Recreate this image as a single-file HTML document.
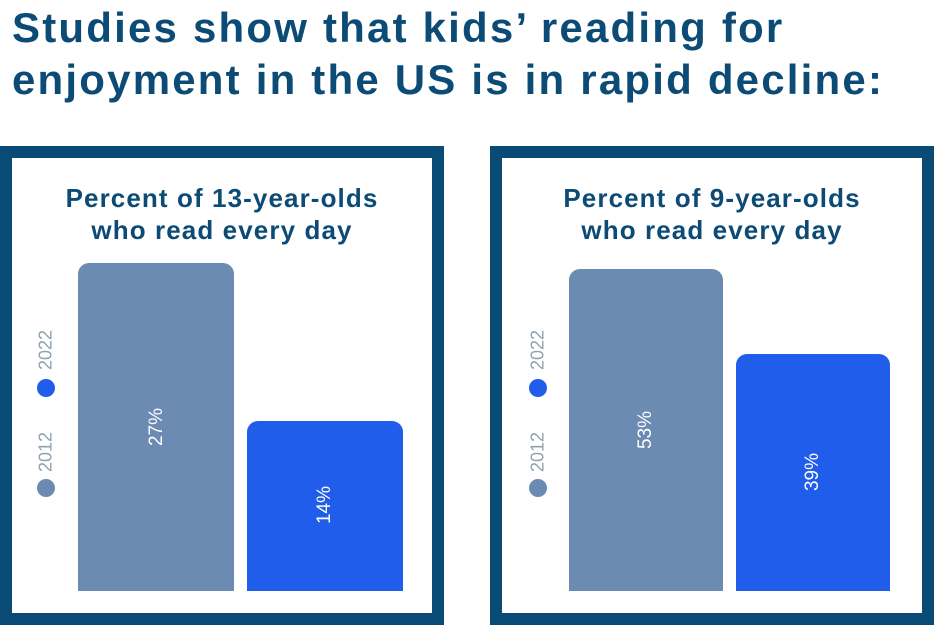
<!DOCTYPE html>
<html><head><style>
body{margin:0;width:934px;height:626px;background:#fff;position:relative;overflow:hidden;font-family:"Liberation Sans",sans-serif}
.h{position:absolute;left:12px;top:2px;font-size:42px;font-weight:bold;color:#0c4b75;line-height:52px;letter-spacing:2.2px;white-space:nowrap}
.box{position:absolute;top:146px;height:455px;border:12px solid #0a4b76;background:#fff;box-sizing:content-box}
.t{position:absolute;width:100%;text-align:center;top:24px;font-size:26px;font-weight:bold;color:#0c4b75;line-height:32px;letter-spacing:1.1px}
.bar{position:absolute;border-radius:11px 11px 0 0}
.g{background:#6b8bb2}.b{background:#215deb}
.lab{position:absolute;color:#fff;font-size:19px;transform:translate(-50%,-50%) rotate(-90deg)}
.yr{position:absolute;color:#8fa3ae;font-size:18px;transform:translate(-50%,-50%) rotate(-90deg)}
.dot{position:absolute;width:18px;height:18px;border-radius:50%}
</style></head><body>
<div class="h">Studies show that kids’ reading for<br>enjoyment in the US is in rapid decline:</div>

<div class="box" style="left:0;width:420px">
<div class="t">Percent of 13-year-olds<br>who read every day</div>
</div>
<div class="box" style="left:490px;width:420px">
<div class="t">Percent of 9-year-olds<br>who read every day</div>
</div>

<div class="bar g" style="left:78px;top:263px;width:156px;height:328px"></div>
<div class="bar b" style="left:247px;top:421px;width:156px;height:170px"></div>
<div class="bar g" style="left:569px;top:269px;width:154px;height:322px"></div>
<div class="bar b" style="left:736px;top:354px;width:154px;height:237px"></div>

<div class="lab" style="left:157px;top:427px">27%</div>
<div class="lab" style="left:325px;top:505px">14%</div>
<div class="lab" style="left:646px;top:430px">53%</div>
<div class="lab" style="left:813px;top:472px">39%</div>

<div class="yr" style="left:46px;top:350px">2022</div>
<div class="yr" style="left:46px;top:452px">2012</div>
<div class="dot b" style="left:37px;top:379px"></div>
<div class="dot g" style="left:37px;top:479px"></div>
<div class="yr" style="left:538px;top:350px">2022</div>
<div class="yr" style="left:538px;top:452px">2012</div>
<div class="dot b" style="left:529px;top:379px"></div>
<div class="dot g" style="left:529px;top:479px"></div>
</body></html>
